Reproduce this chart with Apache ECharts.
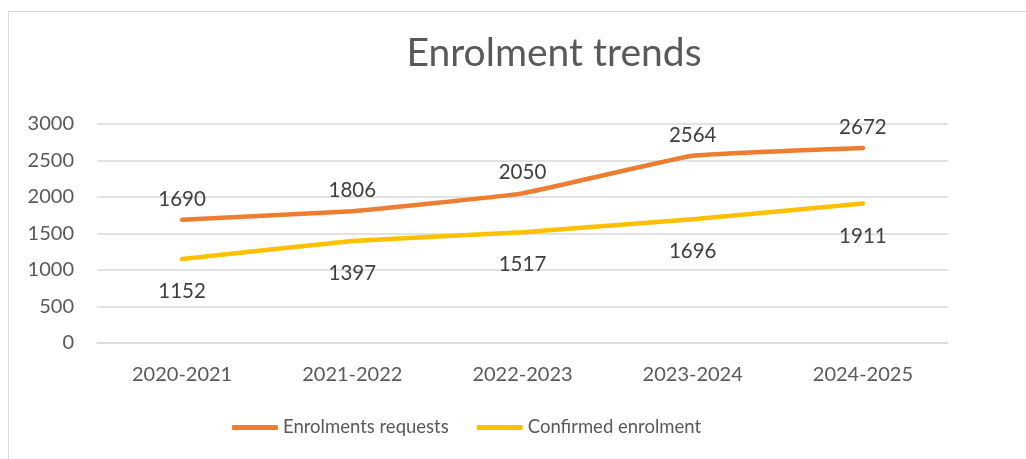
<!DOCTYPE html>
<html>
<head>
<meta charset="utf-8">
<script src="https://cdn.jsdelivr.net/npm/echarts@6/dist/echarts.min.js"></script>
<style>
  html, body { margin: 0; padding: 0; background: #fff; overflow: hidden; }
  .frame {
    position: absolute; left: 8px; top: 11px;
    width: 1090px; height: 470px;
    border-top: 1.5px solid #d9d9d9; border-left: 1.5px solid #d9d9d9;
  }
  #lineChart { position: absolute; left: 0; top: 0; width: 1090px; height: 470px; }
</style>
</head>
<body>
<div class="frame">
  <div id="lineChart"></div>
</div>
<script>
const years = ['2020-2021', '2021-2022', '2022-2023', '2023-2024', '2024-2025'];
const requests = [1690, 1806, 2050, 2564, 2672];
const confirmed = [1152, 1397, 1517, 1696, 1911];
const yTicks = [0, 500, 1000, 1500, 2000, 2500, 3000];

const font = 'Lato, "Open Sans", sans-serif';
const chart = echarts.init(document.getElementById('lineChart'));

chart.setOption({
  animation: false,
  title: {
    text: 'Enrolment trends',
    left: 'center',
    top: 17,
    textStyle: { fontFamily: font, fontSize: 39, fontWeight: 'normal', color: '#595959' },
  },
  legend: {
    left: 218,
    top: 401,
    icon: 'roundRect',
    itemWidth: 46,
    itemHeight: 5,
    itemGap: 28,
    textStyle: { fontFamily: font, fontSize: 18.5, color: '#595959' },
    data: ['Enrolments requests', 'Confirmed enrolment'],
  },
  grid: { left: 88, right: 151, top: 112, bottom: 139 },
  xAxis: {
    type: 'category',
    data: years,
    boundaryGap: true,
    axisLine: { show: true, lineStyle: { color: '#d9d9d9', width: 1.5 } },
    axisTick: { show: false },
    axisLabel: { fontFamily: font, fontSize: 20, color: '#595959', margin: 22 },
  },
  yAxis: {
    type: 'value',
    min: yTicks[0],
    max: yTicks[yTicks.length - 1],
    interval: 500,
    axisLine: { show: false },
    axisTick: { show: false },
    axisLabel: { fontFamily: font, fontSize: 20, color: '#595959', margin: 23, formatter: v => String(v) },
    splitLine: { lineStyle: { color: '#d9d9d9', width: 1.5 } },
  },
  series: [
    {
      name: 'Enrolments requests',
      type: 'line',
      data: requests,
      smooth: 0.1,
      symbol: 'circle',
      symbolSize: 0.01,
      itemStyle: { color: '#ED7D31' },
      lineStyle: { color: '#ED7D31', width: 4.5, cap: 'round', join: 'round' },
      label: { show: true, position: 'top', distance: 10, fontFamily: font, fontSize: 20.5, color: '#404040' },
    },
    {
      name: 'Confirmed enrolment',
      type: 'line',
      data: confirmed,
      smooth: 0.1,
      symbol: 'circle',
      symbolSize: 0.01,
      itemStyle: { color: '#FFC000' },
      lineStyle: { color: '#FFC000', width: 4.5, cap: 'round', join: 'round' },
      label: { show: true, position: 'bottom', distance: 22, fontFamily: font, fontSize: 20.5, color: '#404040' },
    },
  ],
});
</script>
</body>
</html>
